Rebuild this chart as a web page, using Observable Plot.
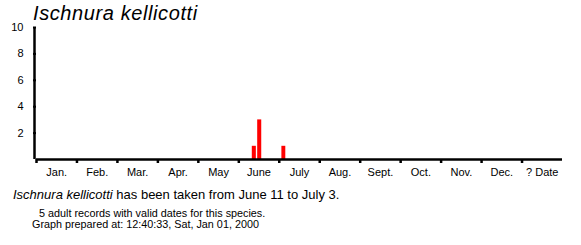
<!DOCTYPE html>
<html>
<head>
<meta charset="utf-8">
<script src="https://cdn.jsdelivr.net/npm/d3@7"></script>
<script src="https://cdn.jsdelivr.net/npm/@observablehq/plot@0.6"></script>
<style>
  html, body { margin: 0; padding: 0; background: #fff; }
  body { font-family: "Liberation Sans", Arial, sans-serif; color: #000; }
  #wrap { position: relative; width: 581px; height: 245px; overflow: hidden; }
  #chart { position: absolute; left: 0; top: 0; }
  .t { position: absolute; white-space: nowrap; line-height: 1; }
  #title { left: 33px; top: 3px; font-size: 20px; letter-spacing: 0.6px; font-style: italic; }
  #c1 { left: 13px; top: 188px; font-size: 13px; }
  #c2 { left: 39px; top: 208px; font-size: 10.8px; }
  #c3 { left: 32px; top: 219px; font-size: 10.8px; }
</style>
</head>
<body>
<div id="wrap">
  <div id="chart"></div>
  <div class="t" id="title">Ischnura kellicotti</div>
  <div class="t" id="c1"><i>Ischnura kellicotti</i> has been taken from June 11 to July 3.</div>
  <div class="t" id="c2">5 adult records with valid dates for this species.</div>
  <div class="t" id="c3">Graph prepared at: 12:40:33, Sat, Jan 01, 2000</div>
</div>
<script>
// Month labels (13th band = unknown date)
const monthLabels = ["Jan.", "Feb.", "Mar.", "Apr.", "May", "June", "July", "Aug.", "Sept.", "Oct.", "Nov.", "Dec.", "? Date"];
const monthDays = [31, 28, 31, 30, 31, 30, 31, 31, 30, 31, 30, 31];
// Records: month index (0 = Jan), day of month, count
const recMonth = [5, 5, 6];
const recDay = [11, 15, 3];
const recCount = [1, 3, 1];
const yTicks = [2, 4, 6, 8, 10];

const records = recMonth.map((m, i) => ({
  x1: m + (recDay[i] - 1) / monthDays[m],
  x2: m + (recDay[i] + 2) / monthDays[m],
  count: recCount[i]
}));

const plot = Plot.plot({
  width: 581,
  height: 190,
  marginTop: 27,
  marginBottom: 31,
  marginLeft: 36,
  marginRight: 19,
  style: { fontFamily: "'Liberation Sans', Arial, sans-serif", fontSize: "11px", color: "#000", background: "#fff" },
  x: { domain: [0, 13] },
  y: { domain: [0, 10] },
  marks: [
    Plot.rectY(records, { x1: "x1", x2: "x2", y1: 0, y2: "count", fill: "#ff0000" }),
    Plot.ruleY([0], { stroke: "#000", strokeWidth: 2.5 }),
    Plot.ruleX([0], { y1: 0, y2: 10, stroke: "#000", strokeWidth: 2.5, dx: -2 }),
    Plot.axisY({ ticks: yTicks, tickSize: 3, tickPadding: 10, strokeWidth: 2, label: null, fontSize: 11 }),
    Plot.axisX({ ticks: d3.range(13), tickSize: 4, tickFormat: () => "", strokeWidth: 2.5, label: null }),
    Plot.axisX({ ticks: d3.range(13).map(i => i + 0.5), tickSize: 0, tickPadding: 9, tickFormat: v => monthLabels[Math.floor(v)], label: null, fontSize: 11 })
  ]
});
document.getElementById("chart").appendChild(plot);
</script>
</body>
</html>
